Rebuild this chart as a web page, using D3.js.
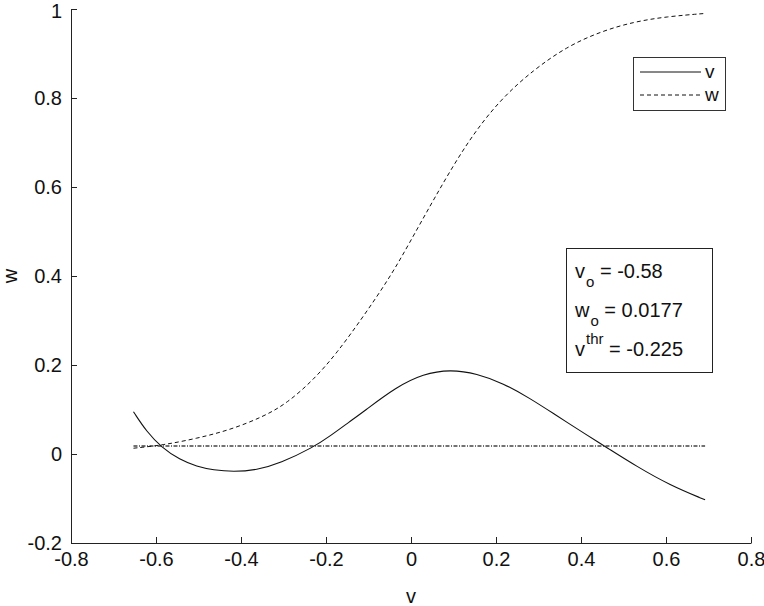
<!DOCTYPE html>
<html>
<head>
<meta charset="utf-8">
<script src="https://cdn.jsdelivr.net/npm/d3@7"></script>
<style>
  html, body { margin: 0; padding: 0; background: #fff; }
  svg { display: block; font-family: "Liberation Sans", Arial, sans-serif; }
</style>
</head>
<body>
<script>
// v-nullcline (solid)
const vNullV = [-0.653,-0.622,-0.587,-0.544,-0.504,-0.465,-0.418,-0.363,-0.308,-0.230,-0.191,-0.144,-0.112,-0.034,0.029,0.092,0.155,0.217,0.280,0.335,0.413,0.460,0.531,0.609,0.692];
const vNullW = [0.095,0.050,0.015,-0.013,-0.028,-0.036,-0.040,-0.036,-0.021,0.015,0.040,0.073,0.095,0.151,0.180,0.190,0.181,0.159,0.125,0.091,0.043,0.015,-0.028,-0.070,-0.103];
// w-nullcline (dashed)
const wNullV = [-0.653,-0.583,-0.504,-0.426,-0.347,-0.292,-0.230,-0.175,-0.112,-0.049,-0.006,0.052,0.131,0.209,0.288,0.366,0.445,0.523,0.602,0.692];
const wNullW = [0.013,0.020,0.035,0.054,0.084,0.114,0.166,0.226,0.309,0.398,0.470,0.570,0.700,0.796,0.863,0.915,0.949,0.971,0.983,0.990];
// horizontal line w = w_o
const hLineV = [-0.653, 0.692];
const hLineW = [0.0177, 0.0177];
// ticks
const xTicks = [-0.8,-0.6,-0.4,-0.2,0,0.2,0.4,0.6,0.8];
const yTicks = [-0.2,0,0.2,0.4,0.6,0.8,1];
const legendLabels = ["v", "w"];
const annot = [
  {base: "v", sub: "o", sup: null, rest: " = -0.58"},
  {base: "w", sub: "o", sup: null, rest: " = 0.0177"},
  {base: "v", sub: null, sup: "thr", rest: " = -0.225"}
];

const W = 764, H = 606;
const svg = d3.select("body").append("svg").attr("width", W).attr("height", H);
svg.append("rect").attr("width", W).attr("height", H).attr("fill", "#fff");

const x = d3.scaleLinear().domain([-0.8, 0.8]).range([71, 751]);
const y = d3.scaleLinear().domain([-0.2, 1]).range([543, 9]);

const fmt = d => (d === 0 ? "0" : String(d));

const xAxis = svg.append("g").attr("transform", `translate(0,${y(-0.2)})`)
  .call(d3.axisBottom(x).tickValues(xTicks).tickFormat(fmt).tickSizeInner(-6).tickSizeOuter(0).tickPadding(9));
const yAxis = svg.append("g").attr("transform", `translate(${x(-0.8)},0)`)
  .call(d3.axisLeft(y).tickValues(yTicks).tickFormat(fmt).tickSizeInner(-6).tickSizeOuter(0).tickPadding(9));
[xAxis, yAxis].forEach(g => {
  g.selectAll("path, line").attr("stroke", "#222").attr("stroke-width", 1);
  g.selectAll("text").attr("font-size", 20).attr("fill", "#111")
    .attr("font-family", "'Liberation Sans', Arial, sans-serif");
});
yAxis.selectAll(".tick").filter(d => d === 1).select("text").attr("dy", "0.42em");

// axis labels
svg.append("text").attr("x", x(0)).attr("y", 603).attr("text-anchor", "middle")
  .attr("font-size", 20).attr("fill", "#111").text("v");
svg.append("text").attr("transform", `translate(17,${y(0.4)}) rotate(-90)`).attr("text-anchor", "middle")
  .attr("font-size", 20).attr("fill", "#111").text("w");

const line = d3.line().x(d => x(d[0])).y(d => y(d[1])).curve(d3.curveBasis);
const zip = (a, b) => a.map((v, i) => [v, b[i]]);

svg.append("path").datum(zip(hLineV, hLineW)).attr("d", d3.line().x(d => x(d[0])).y(d => y(d[1])))
  .attr("fill", "none").attr("stroke", "#444").attr("stroke-width", 1.5).attr("stroke-dasharray", "4,1.5,1,1.5");
svg.append("path").datum(zip(wNullV, wNullW)).attr("d", line)
  .attr("fill", "none").attr("stroke", "#111").attr("stroke-width", 1).attr("stroke-dasharray", "4,3");
svg.append("path").datum(zip(vNullV, vNullW)).attr("d", line)
  .attr("fill", "none").attr("stroke", "#111").attr("stroke-width", 1.1);

// legend
const lg = svg.append("g");
lg.append("rect").attr("x", 633.5).attr("y", 57.5).attr("width", 92).attr("height", 53)
  .attr("fill", "#fff").attr("stroke", "#333").attr("stroke-width", 1);
const lgY = [72, 95];
const lgDash = [null, "4,3"];
legendLabels.forEach((lab, i) => {
  lg.append("line").attr("x1", 640).attr("x2", 701).attr("y1", lgY[i]).attr("y2", lgY[i])
    .attr("stroke", "#111").attr("stroke-width", 1).attr("stroke-dasharray", lgDash[i]);
  lg.append("text").attr("x", 705).attr("y", lgY[i] + 6).attr("font-size", 19).attr("fill", "#111").text(lab);
});

// annotation box
const ab = svg.append("g");
ab.append("rect").attr("x", 566.5).attr("y", 248.5).attr("width", 146).attr("height", 124)
  .attr("fill", "#fff").attr("stroke", "#222").attr("stroke-width", 1);
const abY = [278, 317, 356];
annot.forEach((a, i) => {
  const t = ab.append("text").attr("x", 575).attr("y", abY[i]).attr("font-size", 20).attr("fill", "#111");
  t.append("tspan").text(a.base);
  if (a.sub) {
    t.append("tspan").attr("font-size", 15).attr("dy", 9).attr("dx", 1).text(a.sub);
    t.append("tspan").attr("dy", -9).text(a.rest);
  } else {
    t.append("tspan").attr("font-size", 15).attr("dy", -12).attr("dx", 1).text(a.sup);
    t.append("tspan").attr("dy", 12).text(a.rest);
  }
});
</script>
</body>
</html>
